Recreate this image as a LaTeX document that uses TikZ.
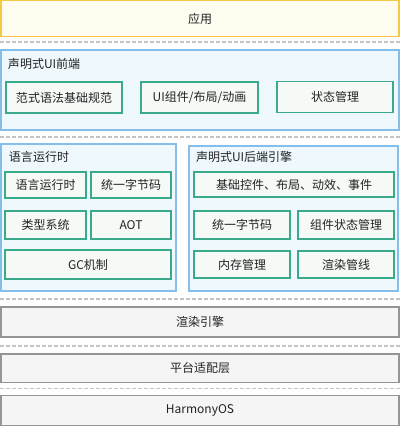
\documentclass[tikz,border=0pt]{standalone}
\usepackage{fontspec}
\setmainfont{Noto Sans CJK SC}
\definecolor{yfill}{HTML}{FFFCF0}
\definecolor{ybd}{HTML}{F6C944}
\definecolor{bfill}{HTML}{EEF8FD}
\definecolor{bbd}{HTML}{85BEEA}
\definecolor{gfill}{HTML}{F5FAF6}
\definecolor{gbd}{HTML}{3BAA8A}
\definecolor{lfill}{HTML}{F5F5F5}
\definecolor{lbd}{HTML}{959595}
\definecolor{dashc}{HTML}{C4C4C4}
\definecolor{txt}{HTML}{222222}
\begin{document}
\begin{tikzpicture}[x=1pt,y=-1pt,
  every node/.style={font=\fontsize{12}{14}\selectfont, text=txt, inner sep=0pt, outer sep=0pt},
  appbox/.style={draw=ybd, fill=yfill, line width=1.3pt},
  groupbox/.style={draw=bbd, fill=bfill, line width=1.3pt},
  itembox/.style={draw=gbd, fill=gfill, line width=1.1pt},
  layerbox/.style={draw=lbd, fill=lfill, line width=1.3pt},
  sep/.style={draw=dashc, line width=1.2pt, dash pattern=on 4pt off 2pt},
  ttl/.style={anchor=west}]
\useasboundingbox (0,0) rectangle (400,427);
% helper: box from (x1,y1) to (x2,y2)
\node[appbox, minimum width=398pt, minimum height=36pt] (app) at (200,18.5) {应用};
\coordinate (d1a) at (0,42); \coordinate (d1b) at (400,42);
\draw[sep] (d1a) -- (d1b);

\node[groupbox, minimum width=398pt, minimum height=80pt] (front) at (200,90) {};
\node[ttl] (fronttitle) at (8,64) {声明式UI前端};
\node[itembox, minimum width=116pt, minimum height=31pt] (f1) at (64,97.5) {范式语法基础规范};
\node[itembox, minimum width=117pt, minimum height=31pt] (f2) at (199.5,97.5) {UI组件/布局/动画};
\node[itembox, minimum width=116pt, minimum height=31pt] (f3) at (335,97) {状态管理};

\coordinate (d2a) at (0,137); \coordinate (d2b) at (400,137);
\draw[sep] (d2a) -- (d2b);

\node[groupbox, minimum width=175pt, minimum height=147pt] (rt) at (88.5,217.5) {};
\node[ttl] (rttitle) at (9,157) {语言运行时};
\node[itembox, minimum width=81pt, minimum height=26pt] (r1) at (45.5,185) {语言运行时};
\node[itembox, minimum width=80pt, minimum height=26pt] (r2) at (131,185) {统一字节码};
\node[itembox, minimum width=81pt, minimum height=28pt] (r3) at (45.5,225) {类型系统};
\node[itembox, minimum width=80pt, minimum height=28pt] (r4) at (131,225) {AOT};
\node[itembox, minimum width=166pt, minimum height=29pt] (r5) at (88,264.5) {GC机制};

\node[groupbox, minimum width=209pt, minimum height=145pt] (be) at (293.5,218.5) {};
\node[ttl] (betitle) at (196,157) {声明式UI后端引擎};
\node[itembox, minimum width=200pt, minimum height=25pt] (b1) at (294,184.5) {基础控件、布局、动效、事件};
\node[itembox, minimum width=96pt, minimum height=28pt] (b2) at (242,225) {统一字节码};
\node[itembox, minimum width=96pt, minimum height=28pt] (b3) at (346,225) {组件状态管理};
\node[itembox, minimum width=96pt, minimum height=27pt] (b4) at (242,264.5) {内存管理};
\node[itembox, minimum width=96pt, minimum height=27pt] (b5) at (346,264.5) {渲染管线};

\coordinate (d3a) at (0,299); \coordinate (d3b) at (400,299);
\draw[sep] (d3a) -- (d3b);
\node[layerbox, minimum width=398pt, minimum height=30pt] (render) at (200,322) {渲染引擎};
\coordinate (d4a) at (0,346); \coordinate (d4b) at (400,346);
\draw[sep] (d4a) -- (d4b);
\node[layerbox, minimum width=398pt, minimum height=28.5pt] (platform) at (200,368.25) {平台适配层};
\coordinate (d5a) at (0,388.5); \coordinate (d5b) at (400,388.5);
\draw[sep] (d5a) -- (d5b);
\node[layerbox, minimum width=398pt, minimum height=30pt] (os) at (200,410.75) {HarmonyOS};
\end{tikzpicture}
\end{document}
